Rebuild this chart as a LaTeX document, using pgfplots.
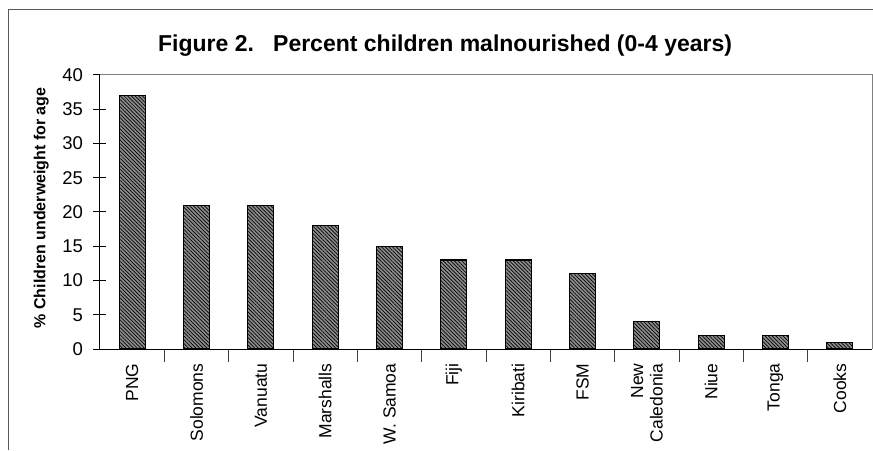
\documentclass[border=0pt]{standalone}
\usepackage{fontspec}
\setmainfont{Liberation Sans}
\usepackage{pgfplots}
\pgfplotsset{compat=1.18}
\usetikzlibrary{patterns.meta}

\definecolor{framegray}{RGB}{90,90,90}
\definecolor{bargray}{RGB}{140,140,140}

\begin{document}
\begin{tikzpicture}[x=1pt,y=1pt]
\path[use as bounding box] (0,0) rectangle (873,450);
% outer chart frame
\draw[framegray, line width=1pt] (8,0) -- (8,440) -- (873,440);
\begin{axis}[
    at={(100pt,101pt)}, anchor=south west,
    scale only axis, width=772pt, height=274pt,
    xmin=-0.5, xmax=11.5, ymin=0, ymax=40,
    axis line style={draw=none},
    xtick pos=bottom, ytick pos=left,
    xtick={0,...,11},
    xticklabels={PNG,Solomons,Vanuatu,Marshalls,W. Samoa,Fiji,Kiribati,FSM,{New\\Caledonia},Niue,Tonga,Cooks},
    minor xtick={0.5,1.5,...,10.5},
    major x tick style={draw=none},
    ytick={0,5,...,40},
    tick align=center,
    major tick length=13pt, minor tick length=13pt,
    tick style={black, line width=1pt},
    minor tick style={black!75, line width=1pt},
    /pgf/number format/assume math mode=true,
    xticklabel style={rotate=90, anchor=east, align=right, font=\fontsize{17.5}{19.5}\selectfont, xshift=2pt},
    yticklabel style={font=\fontsize{18.5}{20}\selectfont, xshift=-7pt},
    ylabel={\% Children underweight for age},
    ylabel style={at={(axis description cs:-0.076,0.515)}, anchor=center, font=\bfseries\fontsize{16}{18}\selectfont},
    title={Figure 2.\ \ \ Percent children malnourished (0-4 years)},
    title style={at={(axis description cs:0.447,1)}, anchor=south, yshift=9pt, font=\bfseries\fontsize{23}{26}\selectfont},
    ybar, bar width=26pt,
    clip=false,
]
\draw[gray, line width=1pt] (rel axis cs:0,1) -- (rel axis cs:1,1) -- (rel axis cs:1,0);
\draw[black, line width=1pt] (rel axis cs:0,1) -- (rel axis cs:0,0) -- (rel axis cs:1,0);
\addplot[draw=black, line width=1.2pt, fill=bargray,
    postaction={pattern={Lines[angle=-45, distance=2.6pt, line width=0.7pt]}, pattern color=black}]
    coordinates {(0,37) (1,21) (2,21) (3,18) (4,15) (5,13) (6,13) (7,11) (8,4) (9,2) (10,2) (11,1)};
\end{axis}
\end{tikzpicture}
\end{document}
